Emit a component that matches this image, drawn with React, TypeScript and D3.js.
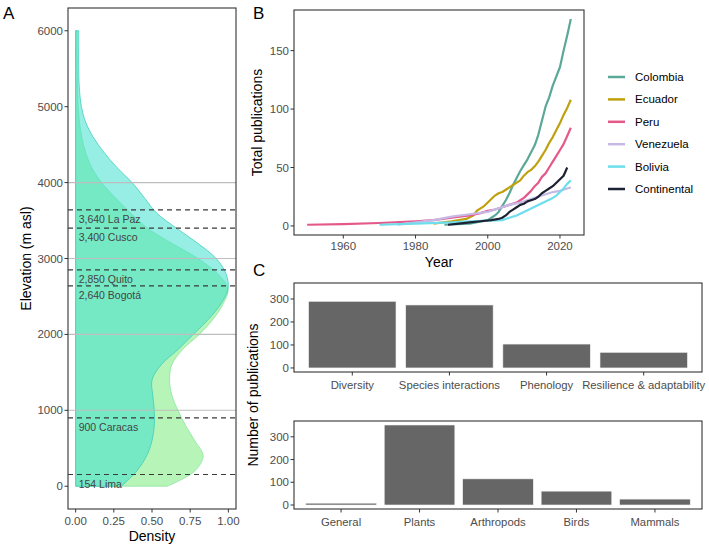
import React from "react";
import * as d3 from "d3";

// ---- panel A: elevation densities ----
const elevation = [0, 200, 400, 600, 800, 1000, 1200, 1400, 1600, 1800, 2000, 2200, 2400, 2600, 2800, 3000, 3200, 3400, 3600, 3800, 4000, 4200, 4400, 4600, 4800, 5000, 5200, 5400, 5600, 5800, 6000];
const densityTurquoise = [0.3, 0.4, 0.465, 0.5, 0.515, 0.515, 0.505, 0.5, 0.56, 0.67, 0.77, 0.87, 0.95, 0.998, 0.985, 0.92, 0.8, 0.66, 0.53, 0.45, 0.37, 0.27, 0.185, 0.115, 0.065, 0.038, 0.026, 0.021, 0.02, 0.02, 0.02];
const densityGreen = [0.6, 0.78, 0.835, 0.78, 0.72, 0.67, 0.63, 0.615, 0.63, 0.7, 0.81, 0.9, 0.965, 0.998, 0.93, 0.8, 0.63, 0.47, 0.36, 0.26, 0.17, 0.105, 0.065, 0.04, 0.025, 0.017, 0.013, 0.011, 0.01, 0.01, 0.01];
const elevTicks = [0, 1000, 2000, 3000, 4000, 5000, 6000];
const densTicks = [0, 0.25, 0.5, 0.75, 1];
const guideElev = [1000, 2000, 3000, 4000];
const cityElev = [3640, 3400, 2850, 2640, 900, 154];
const cityName = ["3,640 La Paz", "3,400 Cusco", "2,850 Quito", "2,640 Bogotá", "900 Caracas", "154 Lima"];

// ---- panel B: cumulative publications ----
const countries = ["Colombia", "Ecuador", "Peru", "Venezuela", "Bolivia", "Continental"];
const countryColors = ["#5ba898", "#bfa10f", "#e4588a", "#c7b9e6", "#6ddeeb", "#1c2133"];
const colombia: [number, number][] = [[1988, 1], [1995, 2], [2000, 5], [2001, 7], [2002, 9], [2003, 12], [2004, 17], [2005, 22], [2006, 28], [2007, 35], [2008, 41], [2009, 47], [2010, 52], [2011, 57], [2012, 63], [2013, 69], [2014, 78], [2015, 90], [2016, 102], [2017, 110], [2018, 120], [2019, 128], [2020, 136], [2021, 150], [2022, 163], [2023, 177]];
const ecuador: [number, number][] = [[1985, 2], [1990, 4], [1994, 6], [1996, 9], [1997, 13], [1998, 15], [1999, 17], [2000, 20], [2001, 23], [2002, 26], [2003, 28], [2004, 29], [2005, 31], [2006, 33], [2007, 35], [2008, 37], [2009, 39], [2010, 43], [2011, 46], [2012, 48], [2013, 51], [2014, 55], [2015, 60], [2016, 65], [2017, 71], [2018, 76], [2019, 82], [2020, 88], [2021, 95], [2022, 101], [2023, 108]];
const peru: [number, number][] = [[1950, 1], [1960, 1.5], [1970, 2.5], [1980, 4], [1985, 5], [1990, 7], [1995, 9], [1998, 11], [2000, 13], [2002, 14], [2004, 16], [2006, 18], [2008, 20], [2009, 22], [2010, 24], [2011, 27], [2012, 30], [2013, 34], [2014, 37], [2015, 42], [2016, 45], [2017, 50], [2018, 55], [2019, 60], [2020, 65], [2021, 70], [2022, 77], [2023, 84]];
const venezuela: [number, number][] = [[1975, 1], [1980, 3], [1985, 5], [1990, 8], [1995, 10], [2000, 12], [2003, 15], [2006, 18], [2009, 20], [2012, 23], [2015, 26], [2018, 29], [2020, 30], [2022, 32], [2023, 33]];
const bolivia: [number, number][] = [[1970, 1], [1980, 2], [1990, 3], [1995, 4], [2000, 4.5], [2004, 5], [2006, 7], [2008, 9], [2010, 12], [2012, 15], [2014, 18], [2016, 21], [2018, 24], [2019, 26], [2020, 29], [2021, 32], [2022, 36], [2023, 39]];
const continental: [number, number][] = [[1989, 1], [1992, 2], [1995, 3], [1998, 4], [2001, 5], [2003, 6], [2004, 7], [2005, 9], [2006, 12], [2007, 14], [2008, 16], [2009, 18], [2010, 19], [2011, 21], [2012, 22], [2013, 23], [2014, 25], [2015, 28], [2016, 30], [2017, 32], [2018, 34], [2019, 37], [2020, 40], [2021, 43], [2022, 50]];
const countrySeries = [colombia, ecuador, peru, venezuela, bolivia, continental];
const yearTicks = [1960, 1980, 2000, 2020];
const pubTicks = [0, 50, 100, 150];

// ---- panel C: publications by topic and taxon ----
const topics = ["Diversity", "Species interactions", "Phenology", "Resilience & adaptability"];
const topicCounts = [290, 274, 104, 68];
const taxa = ["General", "Plants", "Arthropods", "Birds", "Mammals"];
const taxaCounts = [8, 352, 115, 61, 26];
const countTicks = [0, 100, 200, 300];

const font = "'Liberation Sans', Arial, Helvetica, sans-serif";
const tickCol = "#4d4d4d";
const frameCol = "#333333";

function PanelA() {
  const x = d3.scaleLinear().domain([-0.05, 1.05]).range([68, 236]);
  const y = d3.scaleLinear().domain([-300, 6300]).range([509, 8]);
  const area = (dens: number[]) =>
    d3.area<number>()
      .y((_, i) => y(elevation[i]))
      .x0(x(0))
      .x1((d) => x(d))
      .curve(d3.curveCatmullRom)(dens) as string;
  const [x0, x1] = x.range();
  const [yb, yt] = y.range();
  return (
    <g>
      <path d={area(densityGreen)} fill="#90ee90" fillOpacity={0.65} stroke="#7fe39a" strokeWidth={0.7} />
      <path d={area(densityTurquoise)} fill="#40e0d0" fillOpacity={0.55} stroke="#33c9b6" strokeWidth={0.7} />
      {guideElev.map((e) => (
        <line key={e} x1={x0} x2={x1} y1={y(e)} y2={y(e)} stroke="#bebebe" strokeWidth={1.1} />
      ))}
      {cityElev.map((e, i) => (
        <g key={e}>
          <line x1={x0} x2={x1} y1={y(e)} y2={y(e)} stroke="#3a3a3a" strokeWidth={1.1} strokeDasharray="5,4" />
          <text x={x(0) + 3} y={y(e) + 13} fontSize={10.5} fill="#444">{cityName[i]}</text>
        </g>
      ))}
      <rect x={x0} y={yt} width={x1 - x0} height={yb - yt} fill="none" stroke={frameCol} strokeWidth={1.1} />
      {elevTicks.map((t) => (
        <g key={t}>
          <line x1={x0 - 3.5} x2={x0} y1={y(t)} y2={y(t)} stroke={frameCol} />
          <text x={x0 - 5} y={y(t) + 4} textAnchor="end" fontSize={11.5} fill={tickCol}>{t}</text>
        </g>
      ))}
      {densTicks.map((t) => (
        <g key={t}>
          <line x1={x(t)} x2={x(t)} y1={yb} y2={yb + 3.5} stroke={frameCol} />
          <text x={x(t)} y={yb + 16} textAnchor="middle" fontSize={11.5} fill={tickCol}>{t.toFixed(2)}</text>
        </g>
      ))}
      <text x={152} y={541} textAnchor="middle" fontSize={14}>Density</text>
      <text transform={`translate(31,${(yb + yt) / 2}) rotate(-90)`} textAnchor="middle" fontSize={14}>Elevation (m asl)</text>
      <text x={3} y={19} fontSize={17}>A</text>
    </g>
  );
}

function PanelB() {
  const x = d3.scaleLinear().domain([1946.35, 2026.65]).range([294, 584]);
  const y = d3.scaleLinear().domain([-7.75, 184.75]).range([235, 10]);
  const line = d3.line<[number, number]>().x((d) => x(d[0])).y((d) => y(d[1]));
  const [x0, x1] = x.range();
  const [yb, yt] = y.range();
  return (
    <g>
      {countrySeries.map((s, i) => (
        <path key={countries[i]} d={line(s) as string} fill="none" stroke={countryColors[i]} strokeWidth={2.2} strokeLinejoin="round" />
      ))}
      <rect x={x0} y={yt} width={x1 - x0} height={yb - yt} fill="none" stroke={frameCol} strokeWidth={1.1} />
      {pubTicks.map((t) => (
        <g key={t}>
          <line x1={x0 - 3.5} x2={x0} y1={y(t)} y2={y(t)} stroke={frameCol} />
          <text x={x0 - 5} y={y(t) + 4} textAnchor="end" fontSize={11.5} fill={tickCol}>{t}</text>
        </g>
      ))}
      {yearTicks.map((t) => (
        <g key={t}>
          <line x1={x(t)} x2={x(t)} y1={yb} y2={yb + 3.5} stroke={frameCol} />
          <text x={x(t)} y={yb + 15} textAnchor="middle" fontSize={11.5} fill={tickCol}>{t}</text>
        </g>
      ))}
      <text x={(x0 + x1) / 2} y={267} textAnchor="middle" fontSize={14}>Year</text>
      <text transform={`translate(262,${(yb + yt) / 2}) rotate(-90)`} textAnchor="middle" fontSize={14}>Total publications</text>
      <text x={253} y={19} fontSize={17}>B</text>
      {countries.map((c, i) => (
        <g key={c} transform={`translate(608,${77 + i * 22.4})`}>
          <line x1={0} x2={17} y1={0} y2={0} stroke={countryColors[i]} strokeWidth={2.5} />
          <text x={27} y={4} fontSize={11.5}>{c}</text>
        </g>
      ))}
    </g>
  );
}

function BarPanel({ cats, counts, top, bottom }: { cats: string[]; counts: number[]; top: number; bottom: number }) {
  const x = d3.scaleBand().domain(cats).range([294, 702]).paddingInner(0.1).paddingOuter(0.15);
  const y = d3.scaleLinear().domain([-17.6, 369.6]).range([bottom, top]);
  const [x0, x1] = x.range();
  return (
    <g>
      {cats.map((c, i) => (
        <rect key={c} x={x(c)} y={y(counts[i])} width={x.bandwidth()} height={y(0) - y(counts[i])} fill="#666666" stroke="#f2f2f2" strokeWidth={0.6} />
      ))}
      <rect x={x0} y={top} width={x1 - x0} height={bottom - top} fill="none" stroke={frameCol} strokeWidth={1.1} />
      {countTicks.map((t) => (
        <g key={t}>
          <line x1={x0 - 3.5} x2={x0} y1={y(t)} y2={y(t)} stroke={frameCol} />
          <text x={x0 - 5} y={y(t) + 4} textAnchor="end" fontSize={11.5} fill={tickCol}>{t}</text>
        </g>
      ))}
      {cats.map((c) => (
        <g key={c}>
          <line x1={x(c)! + x.bandwidth() / 2} x2={x(c)! + x.bandwidth() / 2} y1={bottom} y2={bottom + 3.5} stroke={frameCol} />
          <text x={x(c)! + x.bandwidth() / 2} y={bottom + 17} textAnchor="middle" fontSize={11.3} fill={tickCol}>{c}</text>
        </g>
      ))}
    </g>
  );
}

export default function App() {
  return (
    <svg width={709} height={550} style={{ position: "absolute", left: 0, top: 0, background: "#fff" }} fontFamily={font}>
      <PanelA />
      <PanelB />
      <BarPanel cats={topics} counts={topicCounts} top={283} bottom={372} />
      <BarPanel cats={taxa} counts={taxaCounts} top={421} bottom={509} />
      <text x={253} y={276} fontSize={17}>C</text>
      <text transform="translate(258,395) rotate(-90)" textAnchor="middle" fontSize={14}>Number of publications</text>
    </svg>
  );
}
